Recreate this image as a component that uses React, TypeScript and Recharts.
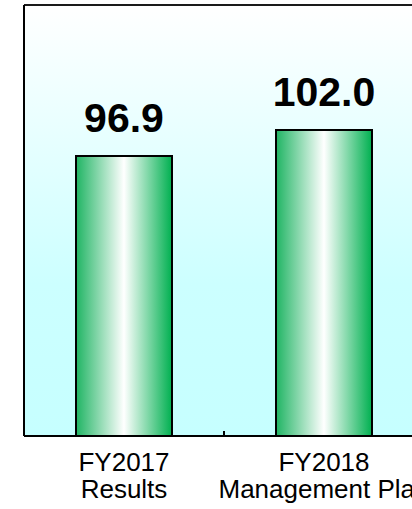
import React from "react";
import { BarChart, Bar, XAxis, YAxis, CartesianGrid, LabelList, ReferenceLine } from "recharts";

const years = ["FY2017", "FY2018"];
const kinds = ["Results", "Management Plan"];
const values = [96.9, 102.0];
const yDomain = [42, 126.5];

const data = years.map((y, i) => ({ name: y, kind: kinds[i], value: values[i] }));

const FONT = "'Liberation Sans', Arial, sans-serif";

// eslint-disable-next-line @typescript-eslint/no-explicit-any
const CategoryTick = ({ x, y, index }: any) => (
  <text x={x} y={y} textAnchor="middle" fill="#000" fontSize={26} fontFamily={FONT}>
    <tspan x={x} dy={27}>{years[index]}</tspan>
    <tspan x={x} dy={27}>{kinds[index]}</tspan>
  </text>
);

// short inward tick at the band boundary, drawn up from the axis
// eslint-disable-next-line @typescript-eslint/no-explicit-any
const SepTick = ({ x1, y1, y2 }: any) => {
  const base = Math.max(y1, y2);
  return <line x1={x1} x2={x1} y1={base} y2={base - 5} stroke="#000" strokeWidth={2} />;
};

export default function App() {
  return (
    <div
      style={{
        position: "absolute",
        left: 0,
        top: 0,
        width: 412,
        height: 509,
        overflow: "hidden",
        background: "#fff",
      }}
    >
      <BarChart
        width={440}
        height={509}
        data={data}
        margin={{ top: 5, right: 16, left: 23, bottom: 0 }}
        barCategoryGap={0}
      >
        <defs>
          <linearGradient id="bgGrad" x1="0" y1="0" x2="0" y2="1">
            <stop offset="0%" stopColor="#ffffff" />
            <stop offset="65%" stopColor="#ccffff" />
            <stop offset="100%" stopColor="#c6ffff" />
          </linearGradient>
          <linearGradient id="barGrad" x1="0" y1="0" x2="1" y2="0">
            <stop offset="0%" stopColor="#1fb463" />
            <stop offset="50%" stopColor="#ffffff" />
            <stop offset="100%" stopColor="#00b050" />
          </linearGradient>
        </defs>
        <CartesianGrid horizontal={false} vertical={false} fill="url(#bgGrad)" />
        <XAxis
          dataKey="name"
          height={73}
          axisLine={{ stroke: "#000", strokeWidth: 2 }}
          tickLine={false}
          tick={<CategoryTick />}
          interval={0}
        />
        <YAxis
          width={1}
          domain={yDomain}
          allowDataOverflow
          axisLine={{ stroke: "#000", strokeWidth: 2 }}
          tickLine={false}
          tick={false}
        />
        <ReferenceLine y={yDomain[1]} stroke="#1a1a1a" strokeWidth={2} ifOverflow="visible" />
        <ReferenceLine x={years[1]} position="start" shape={<SepTick />} />
        <Bar
          dataKey="value"
          barSize={96}
          fill="url(#barGrad)"
          stroke="#000"
          strokeWidth={2}
          isAnimationActive={false}
        >
          <LabelList
            dataKey="value"
            position="top"
            offset={24}
            formatter={(v: number) => v.toFixed(1)}
            fill="#000"
            fontSize={41}
            fontWeight="bold"
            fontFamily={FONT}
          />
        </Bar>
      </BarChart>
    </div>
  );
}
